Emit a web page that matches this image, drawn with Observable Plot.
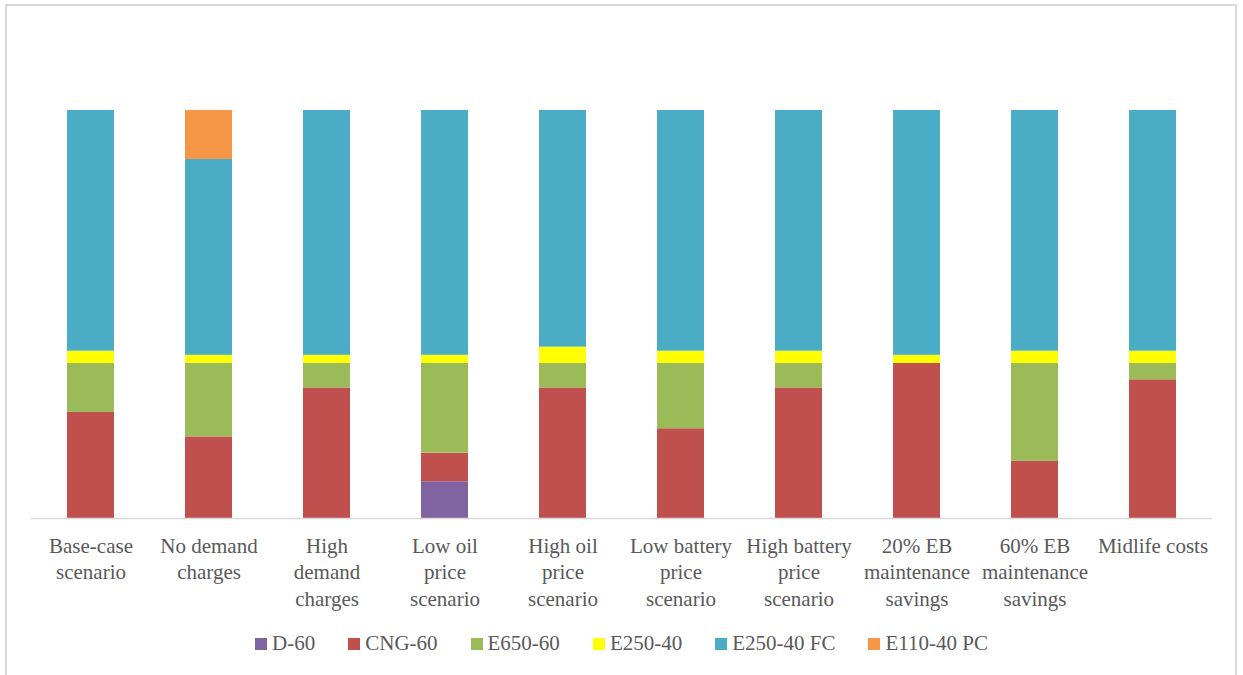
<!DOCTYPE html>
<html>
<head>
<meta charset="utf-8">
<script src="https://cdn.jsdelivr.net/npm/d3@7"></script>
<script src="https://cdn.jsdelivr.net/npm/@observablehq/plot@0.6"></script>
<style>
  html, body { margin: 0; padding: 0; background: #fff; }
  #frame { position: absolute; left: 5px; top: 4px; width: 1232px; height: 680px; border: 2px solid #d9d9d9; box-sizing: border-box; }
  #chart { position: absolute; left: 0; top: 0; }
  #chart svg text { font-family: "Liberation Serif", "Times New Roman", serif !important; }
  #legend { position: absolute; left: 0; top: 631px; width: 1243px; display: flex; justify-content: center; gap: 33px;
            font-family: "Liberation Serif", "Times New Roman", serif; font-size: 21px; color: #595959; }
  .item { display: flex; align-items: center; gap: 5px; }
  .sw { width: 12px; height: 12px; display: inline-block; }
</style>
</head>
<body>
<div id="frame"></div>
<div id="chart"></div>
<div id="legend"></div>
<script>
const categories = [
  "Base-case scenario", "No demand charges", "High demand charges", "Low oil price scenario",
  "High oil price scenario", "Low battery price scenario", "High battery price scenario",
  "20% EB maintenance savings", "60% EB maintenance savings", "Midlife costs"
];
const tickLabels = [
  "Base-case\nscenario", "No demand\ncharges", "High\ndemand\ncharges", "Low oil\nprice\nscenario",
  "High oil\nprice\nscenario", "Low battery\nprice\nscenario", "High battery\nprice\nscenario",
  "20% EB\nmaintenance\nsavings", "60% EB\nmaintenance\nsavings", "Midlife costs"
];
const seriesNames = ["D-60", "CNG-60", "E650-60", "E250-40", "E250-40 FC", "E110-40 PC"];
const seriesColors = ["#8064a2", "#c0504d", "#9bbb59", "#ffff00", "#4bacc6", "#f79646"];
const d60     = [0, 0, 0, 9, 0, 0, 0, 0, 0, 0];
const cng60   = [26, 20, 32, 7, 32, 22, 32, 38, 14, 34];
const e65060  = [12, 18, 6, 22, 6, 16, 6, 0, 24, 4];
const e25040  = [3, 2, 2, 2, 4, 3, 3, 2, 3, 3];
const e25040fc = [59, 48, 60, 60, 58, 59, 59, 60, 59, 59];
const e11040pc = [0, 12, 0, 0, 0, 0, 0, 0, 0, 0];

const seriesValues = [d60, cng60, e65060, e25040, e25040fc, e11040pc];
const data = [];
seriesNames.forEach((s, si) => {
  categories.forEach((c, ci) => {
    data.push({category: c, series: s, value: seriesValues[si][ci]});
  });
});
const labelOf = new Map(categories.map((c, i) => [c, tickLabels[i]]));

const chart = Plot.plot({
  width: 1243,
  height: 625,
  marginLeft: 31,
  marginRight: 31,
  marginTop: 110,
  marginBottom: 107,
  style: {fontFamily: "'Liberation Serif', 'Times New Roman', serif", background: "transparent", color: "#595959"},
  x: {domain: categories, paddingInner: 0.6, paddingOuter: 0.3, label: null},
  y: {domain: [0, 100], axis: null},
  color: {domain: seriesNames, range: seriesColors},
  marks: [
    Plot.barY(data, Plot.stackY({
      x: "category", y: "value", fill: "series",
      order: seriesNames
    })),
    Plot.ruleY([0], {stroke: "#d9d9d9", strokeWidth: 1.5}),
    Plot.axisX({
      tickSize: 0, tickPadding: 15, fontSize: 21, lineHeight: 1.28,
      fill: "#595959", tickFormat: d => labelOf.get(d), label: null
    })
  ]
});
document.getElementById("chart").appendChild(chart);

const legend = document.getElementById("legend");
seriesNames.forEach((s, i) => {
  const item = document.createElement("div");
  item.className = "item";
  const sw = document.createElement("span");
  sw.className = "sw";
  sw.style.background = seriesColors[i];
  const t = document.createElement("span");
  t.textContent = s;
  item.appendChild(sw);
  item.appendChild(t);
  legend.appendChild(item);
});
</script>
</body>
</html>
